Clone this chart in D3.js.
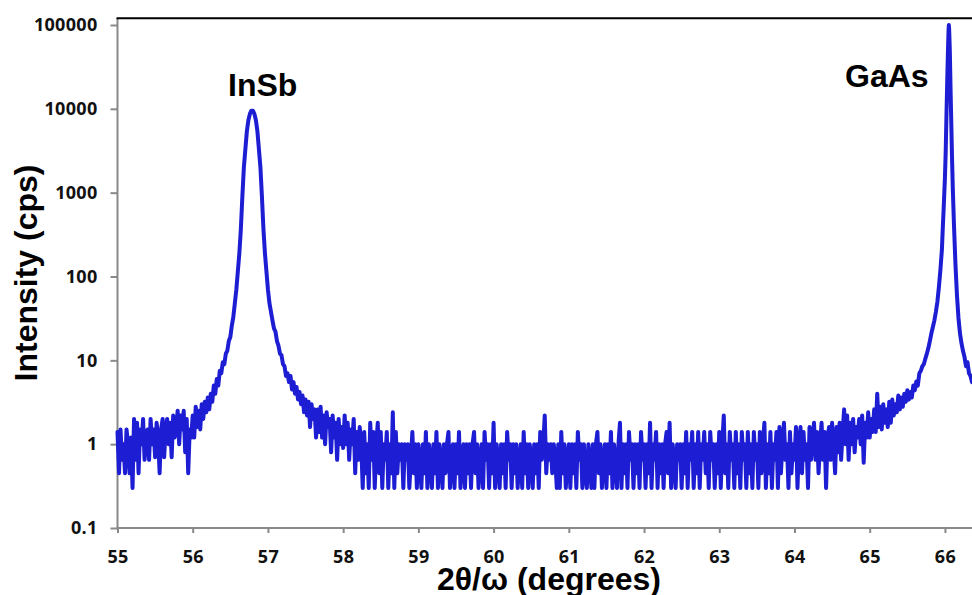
<!DOCTYPE html>
<html>
<head>
<meta charset="utf-8">
<script src="https://cdn.jsdelivr.net/npm/d3@7"></script>
<style>
    body { margin: 0; background: #fff; }
    svg { display: block; }
    .tick-label { font-family: 'Open Sans', sans-serif; font-weight: 700; font-size: 18px; letter-spacing: 0.3px; fill: #111; }
    .title { font-family: 'Liberation Sans', Arial, sans-serif; font-weight: 700; font-size: 32px; fill: #000; }
</style>
</head>
<body>
<svg id="vis" width="972" height="595"></svg>
<script>
'use strict';

// scan step of the background arrays (degrees)
var scanStep = 0.02;

// background left of the InSb peak, first point at 55.00
var leftStart = 55.00;
var leftCps = [
    1.4, 0.45, 1.5, 0.65, 1, 0.45, 1.5, 1, 0.45, 1.2,
    0.3, 2, 0.65, 1.8, 0.45, 1.5, 1, 2, 0.65, 1.2,
    1.5, 0.65, 2, 1, 1.5, 0.7, 1.8, 1.2, 0.45, 1.5,
    2, 0.7, 1.5, 2, 1, 1.8, 0.7, 2.2, 1.2, 1.6,
    2.5, 1, 2.2, 1.5, 2.5, 0.8, 2, 0.45, 1.5, 1.2,
    2.2, 1.2, 2.8, 1.6, 2.5, 1.5, 3, 2, 3.2, 2.4,
    3.6, 2.6, 4, 3.2, 5, 4, 6, 5, 7.5, 7,
    9.5, 9, 12, 13, 17, 19, 26, 33
];

// InSb peak [2theta, cps]
var insbPeak = [
    [56.56, 48], [56.58, 70], [56.60, 115], [56.62, 190], [56.64, 370],
    [56.66, 900], [56.68, 2000], [56.70, 3300], [56.72, 5400], [56.74, 7300],
    [56.76, 8700], [56.78, 9500], [56.80, 9500], [56.82, 8700], [56.84, 7300],
    [56.86, 5400], [56.88, 3300], [56.90, 2000], [56.92, 900], [56.94, 370],
    [56.96, 190], [56.98, 115], [57.00, 70], [57.02, 48], [57.04, 38]
];

// background between the peaks, first point at 57.06
var midStart = 57.06;
var midCps = [
    30, 24, 22, 17, 15, 12, 11.5, 9, 8.5, 6.5,
    7, 5.5, 6.5, 4.5, 5.5, 4, 4.8, 3.4, 4.2, 3,
    3.8, 2.4, 3.4, 2.2, 3.2, 1.6, 3, 2, 2.6, 1.2,
    2.6, 1.4, 2.8, 1.2, 2.2, 1, 2.4, 1.6, 2, 0.8,
    2.2, 1.2, 1.8, 0.65, 2, 1, 1.6, 0.9, 2.2, 1,
    1.8, 0.65, 1.5, 1, 2, 0.45, 1.4, 0.65, 1.6, 1,
    0.3, 1.4, 0.45, 1, 0.3, 1.8, 0.65, 1.4, 0.3, 1,
    1.8, 0.45, 1.4, 0.3, 1, 0.65, 1.4, 0.3, 1, 0.45,
    2.4, 0.3, 1.4, 0.45, 1, 0.65, 1, 0.3, 1, 0.65,
    1, 0.3, 0.65, 1.4, 0.45, 1, 0.3, 1, 0.65, 0.3,
    1, 0.45, 1.4, 0.3, 1, 0.65, 0.3, 1, 0.45, 1.4,
    0.3, 1, 0.65, 0.3, 1, 0.45, 1, 1.4, 0.3, 0.65,
    1, 0.3, 1, 0.45, 1.4, 0.3, 0.65, 1, 0.3, 1,
    0.45, 1, 0.3, 1, 1.4, 0.45, 1, 0.3, 0.65, 1,
    0.3, 1.4, 0.65, 1, 0.3, 1, 0.45, 1.8, 0.3, 1,
    0.65, 0.3, 1, 0.45, 1, 0.3, 1.4, 0.65, 1, 0.3,
    1, 0.45, 1, 0.3, 0.65, 1, 0.3, 1.4, 0.45, 1,
    0.3, 1, 0.65, 0.3, 1, 0.45, 1, 0.3, 1.4, 0.65,
    1, 2.2, 0.45, 1, 0.65, 1, 0.45, 1, 0.65, 0.3,
    1, 0.3, 1.4, 0.45, 1, 0.3, 0.65, 1, 0.3, 1,
    0.45, 1, 0.3, 1.4, 0.65, 1, 0.3, 1, 0.45, 0.3,
    1, 0.65, 0.3, 1, 0.3, 1, 1.4, 0.45, 1, 0.3,
    0.65, 1, 0.3, 1, 0.45, 1.4, 0.3, 1, 0.65, 0.3,
    1, 1.8, 0.3, 1, 0.45, 1, 0.3, 1.4, 0.65, 1,
    0.3, 1, 0.45, 1, 0.3, 1.4, 0.65, 1, 0.3, 1,
    0.45, 1.8, 0.3, 1, 0.65, 1.4, 0.3, 1, 0.45, 1,
    0.3, 1, 1.4, 0.45, 1.8, 0.3, 1, 0.65, 0.3, 1,
    0.65, 1, 0.3, 1, 0.45, 1.4, 0.3, 1, 0.65, 1.4,
    0.3, 1, 0.45, 1.4, 0.3, 1, 0.65, 1.4, 0.45, 1,
    0.3, 1.4, 0.65, 1, 0.3, 1, 0.45, 1.4, 0.3, 1,
    2.2, 0.45, 1, 0.3, 1.4, 0.65, 1, 0.3, 1.4, 0.45,
    1, 0.3, 1.4, 0.65, 1, 0.3, 1.4, 0.45, 1, 0.3,
    1.4, 0.65, 1, 0.3, 1.4, 0.45, 1, 1.8, 0.3, 1,
    0.45, 1.4, 0.3, 1, 0.65, 1.4, 0.3, 1.6, 0.45, 1,
    1.8, 0.65, 1, 0.3, 1.4, 0.45, 1, 0.65, 1.6, 0.3,
    1, 1.6, 0.45, 1.4, 0.65, 1, 0.3, 1.6, 0.65, 1.2,
    1.8, 0.65, 1.4, 0.45, 1, 1.8, 0.65, 1.4, 0.3, 1.2,
    1.6, 0.65, 1.8, 1, 0.45, 1.6, 0.8, 1.8, 0.65, 1.4,
    2.6, 1, 2.2, 0.65, 1.8, 1, 2, 0.8, 1.6, 1.2,
    2, 1, 2.2, 0.6, 1.8, 1.2, 2.4, 1.2, 2, 1.4,
    2.6, 1.4, 4, 1.6, 2.8, 1.5, 3, 1.8, 2.6, 1.6,
    3.2, 1.8, 3.4, 2.2, 3, 2.4, 3.8, 2.6, 3.6, 2.8,
    4, 3.2, 4.4, 3.4, 4.2, 3.6, 5, 4.4, 5.6, 5,
    7, 7.5, 8.5, 9, 10.5, 12, 14
];

// GaAs substrate peak [2theta, cps]
var gaasPeak = [
    [65.80, 17], [65.82, 21], [65.84, 25], [65.86, 30], [65.88, 38],
    [65.90, 50], [65.92, 75], [65.94, 120], [65.96, 210], [65.97, 350],
    [65.98, 560], [65.99, 900], [66.00, 1500], [66.01, 3000], [66.02, 8000],
    [66.03, 20000], [66.04, 48000], [66.048, 85000], [66.052, 100000], [66.056, 90000],
    [66.065, 50000], [66.075, 17000], [66.085, 6500], [66.095, 2500], [66.105, 1100],
    [66.12, 420], [66.14, 140], [66.16, 60], [66.18, 32], [66.20, 21],
    [66.22, 16], [66.24, 13], [66.26, 11], [66.28, 8.5], [66.30, 9.5],
    [66.32, 7], [66.34, 6.5], [66.36, 5.5]
];

var xTicks = [55, 56, 57, 58, 59, 60, 61, 62, 63, 64, 65, 66];
var yTicks = [0.1, 1, 10, 100, 1000, 10000, 100000];
var yTickLabels = ['0.1', '1', '10', '100', '1000', '10000', '100000'];

var svg = d3.select('#vis');

// plot box
var plotLeft = 117.5, plotRight = 972, plotTop = 18, plotBottom = 528;
var axisColor = '#898989';

var x = d3.scaleLinear().domain([55, 66.36]).range([plotLeft, plotRight]);
var y = d3.scaleLog().domain([0.1, 100000]).range([plotBottom, 25]);

//join the pieces of the scan in angle order
function onGrid(start, values) {
    return values.map(function (v, i) {
        return [+(start + i * scanStep).toFixed(2), v];
    });
}
var scan = onGrid(leftStart, leftCps)
    .concat(insbPeak)
    .concat(onGrid(midStart, midCps))
    .concat(gaasPeak);

/* axes */
var yAxis = d3.axisLeft(y)
    .tickValues(yTicks)
    .tickFormat(function (d, i) { return yTickLabels[i]; })
    .tickSize(7)
    .tickSizeOuter(0)
    .tickPadding(13);

var xAxis = d3.axisBottom(x)
    .tickValues(xTicks)
    .tickFormat(d3.format('d'))
    .tickSize(5)
    .tickSizeOuter(0)
    .tickPadding(17);

var yG = svg.append('g')
    .attr('transform', 'translate(' + plotLeft + ',0)')
    .call(yAxis);
var xG = svg.append('g')
    .attr('transform', 'translate(0,' + plotBottom + ')')
    .call(xAxis);

[yG, xG].forEach(function (g) {
    g.select('.domain').remove();
    g.selectAll('.tick line').attr('stroke', axisColor).attr('stroke-width', 2);
    g.selectAll('.tick text')
        .attr('class', 'tick-label')
        .attr('font-family', null)
        .attr('font-size', null);
});

//axis lines (y axis runs up to the top border)
svg.append('line')
    .attr('x1', plotLeft).attr('x2', plotLeft)
    .attr('y1', plotTop).attr('y2', plotBottom + 1)
    .attr('stroke', axisColor).attr('stroke-width', 2);
svg.append('line')
    .attr('x1', plotLeft - 1).attr('x2', plotRight)
    .attr('y1', plotBottom).attr('y2', plotBottom)
    .attr('stroke', axisColor).attr('stroke-width', 2);

/* the scan */
var line = d3.line()
    .x(function (d) { return x(d[0]); })
    .y(function (d) { return y(d[1]); });

svg.append('path')
    .datum(scan)
    .attr('d', line)
    .attr('fill', 'none')
    .attr('stroke', '#1d1dd4')
    .attr('stroke-width', 4)
    .attr('stroke-linejoin', 'round')
    .attr('stroke-linecap', 'round');

//top border
svg.append('line')
    .attr('x1', plotLeft - 1).attr('x2', plotRight)
    .attr('y1', plotTop + 0.3).attr('y2', plotTop + 0.3)
    .attr('stroke', '#000').attr('stroke-width', 2);

/* labels */
svg.append('text')
    .attr('class', 'title')
    .attr('x', 228).attr('y', 96)
    .text('InSb');
svg.append('text')
    .attr('class', 'title')
    .attr('x', 845).attr('y', 87)
    .text('GaAs');

svg.append('text')
    .attr('class', 'title')
    .attr('text-anchor', 'middle')
    .attr('x', 549).attr('y', 590)
    .text('2θ/ω (degrees)');

svg.append('text')
    .attr('class', 'title')
    .attr('text-anchor', 'middle')
    .attr('transform', 'translate(37,273) rotate(-90)')
    .text('Intensity (cps)');
</script>
</body>
</html>
